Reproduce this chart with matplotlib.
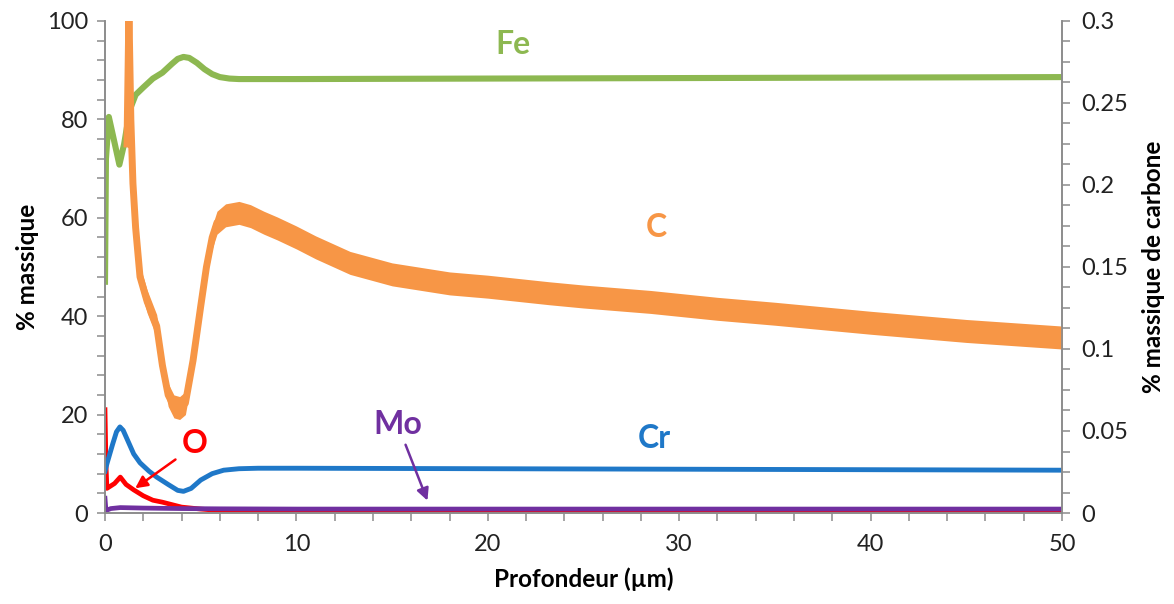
import numpy as np
import matplotlib.pyplot as plt
from matplotlib.ticker import MultipleLocator, FuncFormatter

plt.rcParams['font.family'] = ['Lato', 'DejaVu Sans']

# profile data (depth in µm)
fe_x = [0, 0.05, 0.2, 0.4, 0.75, 1.0, 1.3, 1.6, 2.0, 2.5, 3.0, 3.5, 3.8, 4.1, 4.4, 4.8, 5.2, 5.6, 6.0, 6.5, 7.0, 10, 20, 30, 40, 50]
fe_y = [47, 72, 80.5, 77, 70.8, 75, 82, 85, 86.5, 88.3, 89.5, 91.3, 92.3, 92.7, 92.5, 91.5, 90.2, 89.2, 88.6, 88.3, 88.2, 88.2, 88.3, 88.4, 88.5, 88.6]

# carbon, right axis (% massique de carbone)
c_x = [1.15, 1.25, 1.35, 1.46, 1.6, 1.83, 2.2, 2.7, 3.0, 3.3, 3.6, 3.9, 4.2, 4.6, 5.0, 5.3, 5.6, 5.85,
       6.3, 7.0, 7.6, 8.3, 9, 10, 11, 12.8, 15, 18, 20, 23.2, 25, 28.5, 32, 35, 40, 45, 50]
c_y = [0.225, 0.306, 0.24, 0.201, 0.174, 0.144, 0.129, 0.114, 0.09, 0.072, 0.065, 0.064, 0.067, 0.093,
       0.126, 0.15, 0.168, 0.177, 0.1815, 0.183, 0.181, 0.177, 0.1735, 0.168, 0.162, 0.1525, 0.1455, 0.14,
       0.138, 0.134, 0.132, 0.1287, 0.1245, 0.1215, 0.116, 0.111, 0.107]
c_noise = 0.007  # half width of the noisy band

cr_x = [0, 0.1, 0.4, 0.6, 0.78, 0.95, 1.1, 1.5, 1.83, 2.3, 2.7, 3.3, 3.8, 4.1, 4.5, 5.0, 5.6, 6.2, 7, 8, 10, 20, 30, 40, 50]
cr_y = [8.5, 10, 14, 16.5, 17.5, 16.8, 15.5, 12, 10.2, 8.5, 7.3, 5.8, 4.6, 4.4, 5.0, 6.7, 8.0, 8.7, 9.0, 9.1, 9.1, 9.0, 8.9, 8.8, 8.7]

o_x = [0, 0.05, 0.1, 0.3, 0.5, 0.8, 1.1, 1.5, 2.0, 2.5, 3.0, 3.5, 4.0, 5.0, 6.0, 8, 10, 20, 50]
o_y = [21, 10, 5.0, 5.5, 6.0, 7.3, 5.8, 4.7, 3.5, 2.6, 2.2, 1.7, 1.2, 0.8, 0.5, 0.4, 0.35, 0.3, 0.25]

mo_x = [0, 0.05, 0.3, 0.8, 2, 4, 6, 10, 50]
mo_y = [3, 0.5, 0.9, 1.1, 1.0, 0.9, 0.85, 0.8, 0.8]

green = '#8db851'
orange = '#f79646'
blue = '#1f78c8'
red = '#ff0000'
purple = '#7030a0'
grey = '#8c8c8c'

fig = plt.figure(figsize=(11.74, 6.04), dpi=100)
ax = fig.add_axes([105 / 1174, 1 - 513 / 604, (1062 - 105) / 1174, (513 - 21) / 604])
ax2 = ax.twinx()

ax.plot(fe_x, fe_y, color=green, lw=4.4)
ax.plot(o_x, o_y, color=red, lw=3.4)
ax.plot(cr_x, cr_y, color=blue, lw=3.5)
ax.plot(mo_x, mo_y, color=purple, lw=3.4)

c = np.array(c_y)
ax2.fill_between(c_x, c - c_noise, c + c_noise, color=orange, lw=0)
ax2.plot(c_x, c_y, color=orange, lw=5)

ax.set_xlim(0, 50)
ax.set_ylim(0, 100)
ax2.set_ylim(0, 0.3)

ax.xaxis.set_major_locator(MultipleLocator(10))
ax.xaxis.set_minor_locator(MultipleLocator(2))
ax.yaxis.set_major_locator(MultipleLocator(20))
ax.yaxis.set_minor_locator(MultipleLocator(4))
ax2.yaxis.set_major_locator(MultipleLocator(0.05))
ax2.yaxis.set_minor_locator(MultipleLocator(0.0125))
ax2.yaxis.set_major_formatter(FuncFormatter(lambda v, p: '%g' % round(v, 3)))

for a in (ax, ax2):
    a.spines['top'].set_visible(False)
    for s in ('left', 'right', 'bottom'):
        a.spines[s].set_color(grey)
        a.spines[s].set_linewidth(1.2)
    a.tick_params(which='both', length=6, width=1.1, color=grey, labelsize=17, labelcolor='#222222')
ax.tick_params(axis='x', pad=9)
ax.tick_params(axis='y', pad=6)
ax2.tick_params(axis='y', pad=8)

ax.set_xlabel('Profondeur (µm)', fontsize=17.5, fontweight='bold', labelpad=9)
ax.set_ylabel('% massique', fontsize=17.5, fontweight='bold', labelpad=6)
ax2.set_ylabel('% massique de carbone', fontsize=17.5, fontweight='bold', labelpad=10)

ax.text(21.3, 95.3, 'Fe', color=green, fontsize=23, fontweight='bold', ha='center', va='center')
ax.text(28.8, 58, 'C', color=orange, fontsize=23, fontweight='bold', ha='center', va='center')
ax.text(28.7, 15.2, 'Cr', color=blue, fontsize=23, fontweight='bold', ha='center', va='center')
ax.text(15.3, 17.9, 'Mo', color=purple, fontsize=23, fontweight='bold', ha='center', va='center')
ax.text(4.7, 14.2, 'O', color=red, fontsize=23, fontweight='bold', ha='center', va='center')

ax.annotate('', xy=(16.9, 2.0), xytext=(15.65, 14.4),
            arrowprops=dict(arrowstyle='-|>', color=purple, lw=1.8, mutation_scale=18))
ax.annotate('', xy=(1.46, 4.7), xytext=(3.8, 11.2),
            arrowprops=dict(arrowstyle='-|>', color=red, lw=1.8, mutation_scale=18))

fig.savefig('out.png', dpi=100)
